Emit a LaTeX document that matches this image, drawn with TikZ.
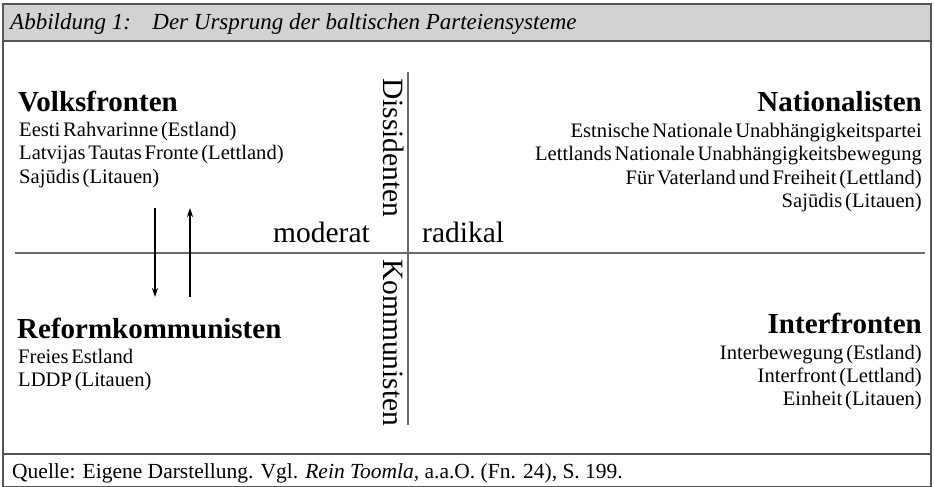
\documentclass[tikz,border=0pt]{standalone}
\usepackage{fontspec}
\setmainfont{Liberation Serif}
\newfontfamily\tightserif[WordSpace=0.55]{Liberation Serif}
\usetikzlibrary{arrows.meta}
\definecolor{framegray}{HTML}{555555}
\definecolor{titlegray}{HTML}{D2D2D2}
\definecolor{axisgray}{HTML}{6A6A6A}
\tikzset{
  heading/.style={inner sep=0pt, font=\fontsize{29}{31}\selectfont\bfseries},
  body/.style={inner sep=0pt, font=\tightserif\fontsize{20.6}{23}\selectfont},
  axislabel/.style={inner sep=0pt, font=\fontsize{29.5}{31}\selectfont},
  axis/.style={draw=axisgray, line width=1.6pt},
  flow/.style={draw=black, line width=1.3pt, -{Stealth[length=9pt,width=6pt]}},
  frame/.style={draw=framegray, line width=1.6pt}
}
\begin{document}
\begin{tikzpicture}[x=1pt,y=-1pt]
\useasboundingbox (0,0) rectangle (934,487);
% frame and title bar
\path[fill=titlegray] (3,4) rectangle (931,41);
\draw[frame] (3,4) rectangle (931,487);
\draw[frame] (3,41) -- (931,41);
\draw[frame] (3,454) -- (931,454);
\node[inner sep=0pt, anchor=base west, font=\fontsize{23}{26}\selectfont\itshape] (title) at (10,30) {Abbildung 1:\hspace{0.6em} Der Ursprung der baltischen Parteiensysteme};
\node[inner sep=0pt, anchor=base west, font=\fontsize{21.5}{24}\selectfont] (source) at (12,478) {Quelle: Eigene Darstellung. Vgl. \textit{Rein Toomla}, a.a.O. (Fn. 24), S. 199.};
% axes
\coordinate (vtop) at (408,72);
\coordinate (vbot) at (408,425);
\coordinate (hl) at (15,253);
\coordinate (hr) at (925,253);
\draw[axis] (vtop) -- (vbot);
\draw[axis] (hl) -- (hr);
\node[axislabel, rotate=-90, anchor=base west] (diss) at (383,78) {Dissidenten};
\node[axislabel, rotate=-90, anchor=base west] (komm) at (383,259) {Kommunisten};
\node[axislabel, anchor=base east] (moderat) at (370,242) {moderat};
\node[axislabel, anchor=base west] (radikal) at (422,242) {radikal};
% Volksfronten
\node[heading, anchor=base west] (vf) at (18,111) {Volksfronten};
\node[body, anchor=base west] (vf1) at (19,136) {Eesti Rahvarinne (Estland)};
\node[body, anchor=base west] (vf2) at (19,159.5) {Latvijas Tautas Fronte (Lettland)};
\node[body, anchor=base west] (vf3) at (19,183) {Sajūdis (Litauen)};
% Nationalisten
\node[heading, anchor=base east] (nat) at (922,111) {Nationalisten};
\node[body, anchor=base east] (nat1) at (922,137) {Estnische Nationale Unabhängigkeitspartei};
\node[body, anchor=base east] (nat2) at (922,160.5) {Lettlands Nationale Unabhängigkeitsbewegung};
\node[body, anchor=base east] (nat3) at (922,184) {Für Vaterland und Freiheit (Lettland)};
\node[body, anchor=base east] (nat4) at (922,207.5) {Sajūdis (Litauen)};
% Reformkommunisten
\node[heading, anchor=base west] (rk) at (17,338) {Reformkommunisten};
\node[body, anchor=base west] (rk1) at (18,363) {Freies Estland};
\node[body, anchor=base west] (rk2) at (18,386) {LDDP (Litauen)};
% Interfronten
\node[heading, anchor=base east] (ifr) at (922,333) {Interfronten};
\node[body, anchor=base east] (ifr1) at (922,359) {Interbewegung (Estland)};
\node[body, anchor=base east] (ifr2) at (922,382) {Interfront (Lettland)};
\node[body, anchor=base east] (ifr3) at (922,405) {Einheit (Litauen)};
% arrows
\coordinate (dtop) at (155,208);
\coordinate (dbot) at (155,297);
\coordinate (ubot) at (190,297);
\coordinate (utop) at (190,208);
\draw[flow] (dtop) -- (dbot);
\draw[flow] (ubot) -- (utop);
\end{tikzpicture}
\end{document}
